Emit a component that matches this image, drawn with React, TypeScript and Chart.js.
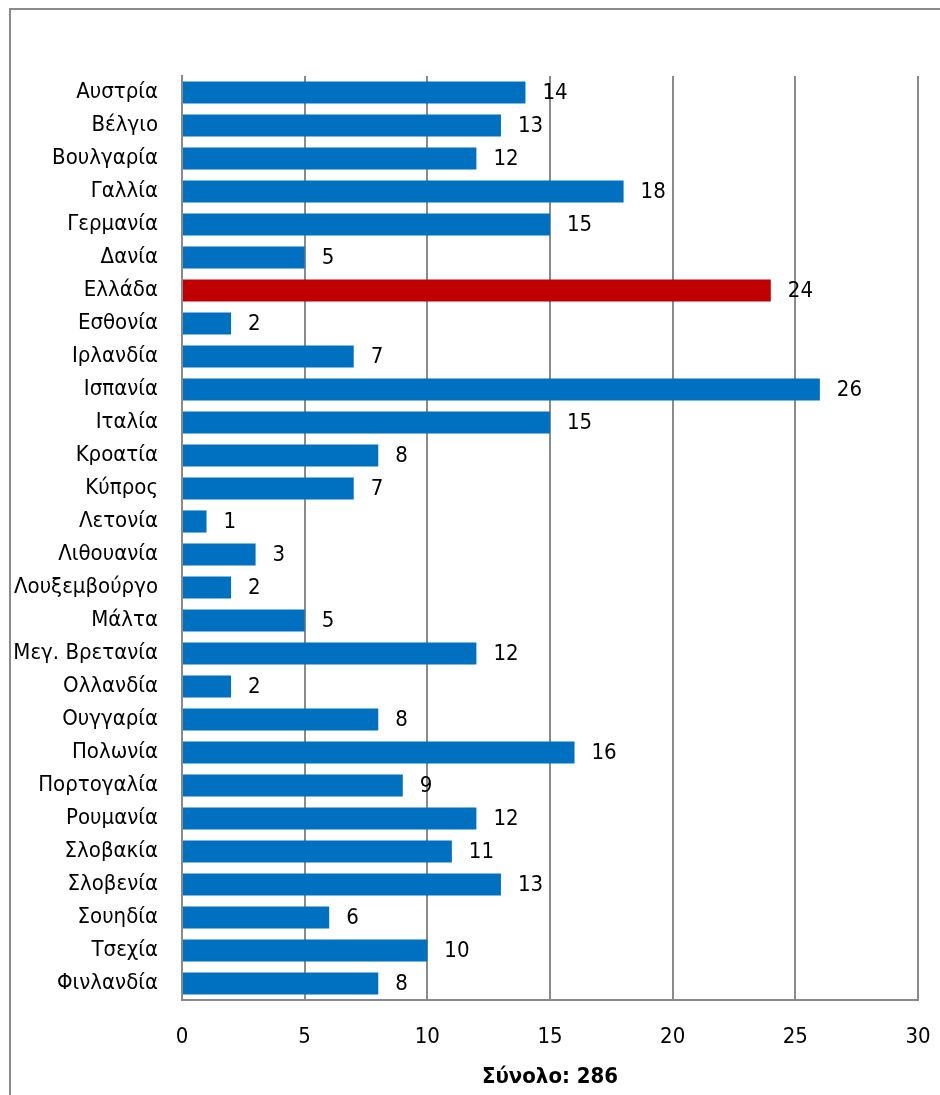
import React, { useEffect, useRef } from "react";
import { Chart, registerables } from "chart.js";

Chart.register(...registerables);

const categories = [
  "Αυστρία", "Βέλγιο", "Βουλγαρία", "Γαλλία", "Γερμανία", "Δανία", "Ελλάδα",
  "Εσθονία", "Ιρλανδία", "Ισπανία", "Ιταλία", "Κροατία", "Κύπρος", "Λετονία",
  "Λιθουανία", "Λουξεμβούργο", "Μάλτα", "Μεγ. Βρετανία", "Ολλανδία", "Ουγγαρία",
  "Πολωνία", "Πορτογαλία", "Ρουμανία", "Σλοβακία", "Σλοβενία", "Σουηδία",
  "Τσεχία", "Φινλανδία",
];
const values = [14, 13, 12, 18, 15, 5, 24, 2, 7, 26, 15, 8, 7, 1, 3, 2, 5, 12, 2, 8, 16, 9, 12, 11, 13, 6, 10, 8];
const highlighted = "Ελλάδα";
const xTicks = [0, 5, 10, 15, 20, 25, 30];
const axisTitle = "Σύνολο: 286";

const BLUE = "#0070C0";
const RED = "#C00000";
const GRID = "#8a8a8a";
const FONT = '"Liberation Sans Narrow", "Arial Narrow", "DejaVu Sans Condensed", Arial, sans-serif';

const valueLabels = {
  id: "valueLabels",
  afterDatasetsDraw(chart: any) {
    const ctx = chart.ctx;
    const meta = chart.getDatasetMeta(0);
    ctx.save();
    ctx.font = `22px ${FONT}`;
    ctx.fillStyle = "#000";
    ctx.textAlign = "left";
    ctx.textBaseline = "middle";
    meta.data.forEach((bar: any, i: number) => {
      ctx.fillText(String(values[i]), bar.x + 17, bar.y + 1);
    });
    ctx.restore();
  },
};

export default function App() {
  const ref = useRef<HTMLCanvasElement>(null);

  useEffect(() => {
    document.body.style.margin = "0";
    const chart = new Chart(ref.current!, {
      type: "bar",
      data: {
        labels: categories,
        datasets: [
          {
            data: values,
            backgroundColor: categories.map((c) => (c === highlighted ? RED : BLUE)),
            barPercentage: 0.67,
            categoryPercentage: 1,
          },
        ],
      },
      options: {
        indexAxis: "y",
        animation: false,
        responsive: false,
        devicePixelRatio: 1,
        layout: { padding: { top: 76, right: 22, bottom: 0, left: 0 } },
        plugins: { legend: { display: false }, tooltip: { enabled: false } },
        scales: {
          x: {
            min: 0,
            max: 30,
            afterBuildTicks(scale: any) {
              scale.ticks = xTicks.map((v) => ({ value: v }));
            },
            afterFit(scale: any) {
              scale.height = 95;
              scale.paddingLeft = 0;
              scale.paddingRight = 0;
            },
            grid: { color: GRID, lineWidth: 2, drawTicks: false },
            border: { color: GRID, width: 2 },
            ticks: {
              color: "#000",
              font: { family: FONT, size: 22 },
              padding: 24,
            },
            title: {
              display: true,
              text: axisTitle,
              color: "#000",
              font: { family: FONT, size: 22, weight: "bold" },
              padding: { top: 0, bottom: 5 },
            },
          },
          y: {
            afterFit(scale: any) {
              scale.width = 182;
              scale.paddingTop = 0;
              scale.paddingBottom = 0;
            },
            grid: { display: false, drawTicks: false },
            border: { color: GRID, width: 2 },
            ticks: {
              color: "#000",
              font: { family: FONT, size: 22 },
              padding: 24,
              autoSkip: false,
            },
          },
        },
      },
      plugins: [valueLabels],
    });
    return () => chart.destroy();
  }, []);

  return (
    <div style={{ position: "relative", width: 940, height: 1095, background: "#fff" }}>
      <div
        style={{
          position: "absolute",
          left: 9,
          top: 8,
          right: -10,
          bottom: -10,
          borderLeft: "2px solid #8a8a8a",
          borderTop: "2px solid #8a8a8a",
        }}
      />
      <canvas
        ref={ref}
        width={940}
        height={1095}
        style={{ position: "absolute", left: 0, top: 0, width: 940, height: 1095 }}
      />
    </div>
  );
}
